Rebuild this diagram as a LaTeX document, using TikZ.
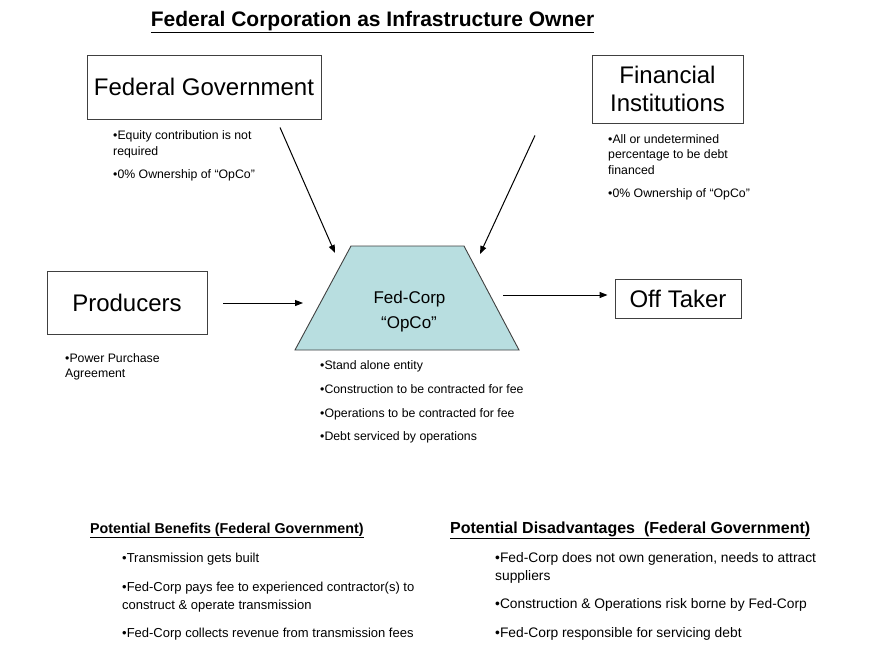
\documentclass[tikz,border=0pt]{standalone}
\usepackage{fontspec}
\setmainfont{Liberation Sans}
\usetikzlibrary{arrows.meta}
\definecolor{opcofill}{RGB}{184,222,224}
\definecolor{edgegray}{RGB}{64,64,64}
\begin{document}
\begin{tikzpicture}[x=1pt,y=-1pt,
  box/.style={draw=edgegray, line width=0.9pt, fill=white, inner sep=0pt, font=\fontsize{24}{28}\selectfont, align=center},
  note/.style={anchor=base west, inner sep=0pt, font=\fontsize{12.3}{14}\selectfont},
  bnote/.style={anchor=base west, inner sep=0pt, font=\fontsize{13}{15}\selectfont},
  rnote/.style={anchor=base west, inner sep=0pt, font=\fontsize{13.8}{15}\selectfont},
  head/.style={anchor=base west, inner sep=0pt, font=\bfseries\fontsize{14.3}{16}\selectfont},
  flow/.style={-{Triangle[length=8pt,width=6pt]}, line width=1pt, black}]
\useasboundingbox (0,0) rectangle (870,645);

% title
\node[anchor=base, inner sep=0pt, font=\bfseries\fontsize{21}{24}\selectfont] (title) at (372.5,26) {\underline{Federal Corporation as Infrastructure Owner}};

% boxes
\node[box, minimum width=234, minimum height=64] (fg) at (204,87) {Federal Government};
\node[box, minimum width=151, minimum height=68] (fi) at (667.5,89) {Financial\\Institutions};
\node[box, minimum width=160, minimum height=63] (prod) at (127,302.5) {Producers};
\node[box, minimum width=126, minimum height=39] (off) at (678,298.5) {Off Taker};

% OpCo trapezoid
\filldraw[fill=opcofill, draw=edgegray, line width=0.9pt] (295,350) -- (351,246) -- (464,246) -- (519,350) -- cycle;
\node[anchor=base, inner sep=0pt, font=\fontsize{17}{20}\selectfont] (opco1) at (409.5,303) {Fed-Corp};
\node[anchor=base, inner sep=0pt, font=\fontsize{17}{20}\selectfont] (opco2) at (409,328) {“OpCo”};
\coordinate (opTL) at (335,253);
\coordinate (opTR) at (480,254);
\coordinate (opL) at (303,303);
\coordinate (opR) at (503,295);

% connectors
\draw[flow] ([xshift=76pt,yshift=-8pt]fg.south) -- (opTL);
\draw[flow] ([xshift=-132.5pt,yshift=-12pt]fi.south) -- (opTR);
\draw[flow] ([xshift=16pt,yshift=-0.5pt]prod.east) -- (opL);
\draw[flow] (opR) -- ([xshift=-7pt,yshift=3.5pt]off.west);

% notes
\node[note] (fg1) at (113,139) {•Equity contribution is not};
\node[note] (fg2) at (113,155) {required};
\node[note] (fg3) at (113,178) {•0\% Ownership of “OpCo”};

\node[note] (fi1) at (608,143) {•All or undetermined};
\node[note] (fi2) at (608,158) {percentage to be debt};
\node[note] (fi3) at (608,174) {financed};
\node[note] (fi4) at (608,197) {•0\% Ownership of “OpCo”};

\node[note] (pr1) at (65,362) {•Power Purchase};
\node[note] (pr2) at (65,377) {Agreement};

\node[note] (op1) at (320,369) {•Stand alone entity};
\node[note] (op2) at (320,393) {•Construction to be contracted for fee};
\node[note] (op3) at (320,417) {•Operations to be contracted for fee};
\node[note] (op4) at (320,440) {•Debt serviced by operations};

% bottom
\node[head] (hb) at (90,533) {\underline{Potential Benefits (Federal Government)}};
\node[bnote] (b1) at (122,562) {•Transmission gets built};
\node[bnote] (b2) at (122,591) {•Fed-Corp pays fee to experienced contractor(s) to};
\node[bnote] (b3) at (122,609) {construct \& operate transmission};
\node[bnote] (b4) at (122,637) {•Fed-Corp collects revenue from transmission fees};

\node[head, font=\bfseries\fontsize{16}{18}\selectfont] (hd) at (450,533) {\underline{Potential Disadvantages\ \ (Federal Government)}};
\node[rnote] (d1) at (495,562) {•Fed-Corp does not own generation, needs to attract};
\node[rnote] (d2) at (495,580) {suppliers};
\node[rnote] (d3) at (495,608) {•Construction \& Operations risk borne by Fed-Corp};
\node[rnote] (d4) at (495,637) {•Fed-Corp responsible for servicing debt};
\end{tikzpicture}
\end{document}
